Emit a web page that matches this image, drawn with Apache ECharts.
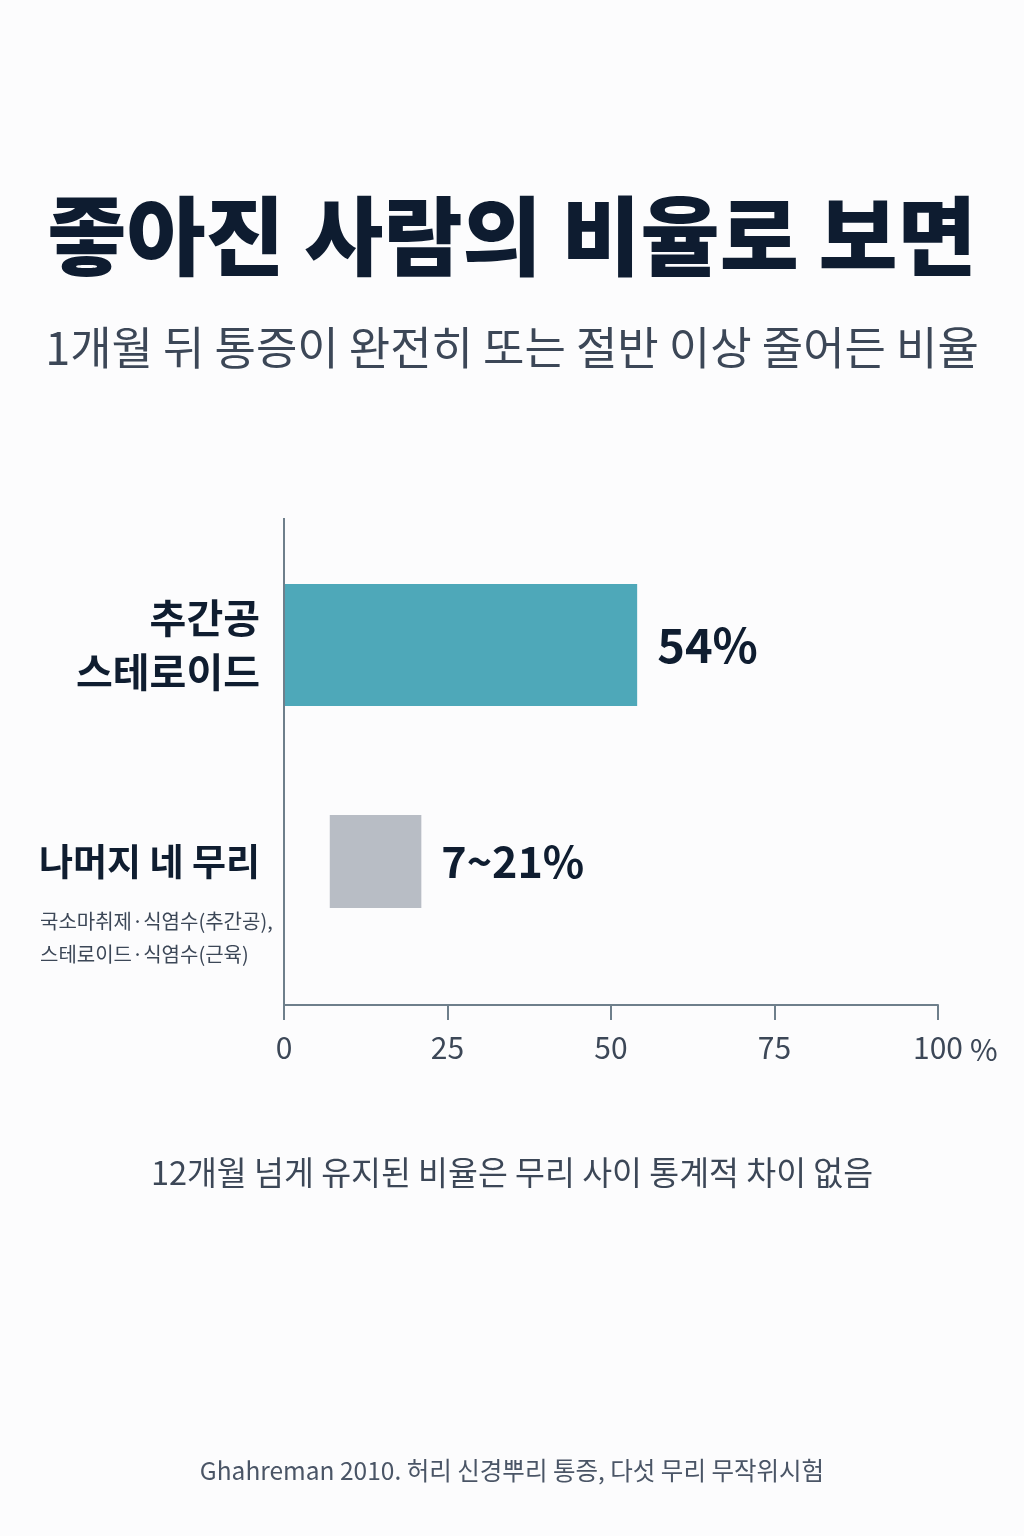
<!DOCTYPE html>
<html><head><meta charset="utf-8">
<script src="https://cdn.jsdelivr.net/npm/echarts@6/dist/echarts.min.js"></script>
<style>html,body{margin:0;padding:0;background:#fcfcfd}#c{width:1024px;height:1536px}</style>
</head><body><div id="c"></div>
<script>
const FONT = '"Noto Sans CJK KR", "Noto Sans", sans-serif';
const titleText = '좋아진 사람의 비율로 보면';
const subtitleText = '1개월 뒤 통증이 완전히 또는 절반 이상 줄어든 비율';
const categories = ['추간공\n스테로이드', '나머지 네 무리'];
const subLabel = '국소마취제·식염수(추간공),\n스테로이드·식염수(근육)';
const steroidValues = [54, '-'];
const rangeLow = ['-', 7];
const rangeHigh = ['-', 21];
const valueLabels = ['54%', '7~21%'];
const xTicks = [0, 25, 50, 75, 100];
const noteText = '12개월 넘게 유지된 비율은 무리 사이 통계적 차이 없음';
const sourceText = 'Ghahreman 2010. 허리 신경뿌리 통증, 다섯 무리 무작위시험';

const rangeSpan = rangeHigh.map((h, i) => (h === '-' ? '-' : h - rangeLow[i]));

const chart = echarts.init(document.getElementById('c'), null, {renderer: 'canvas'});
chart.setOption({
  backgroundColor: '#fcfcfd',
  animation: false,
  title: [
    {text: titleText, left: 'center', top: 188,
     textStyle: {fontFamily: FONT, fontSize: 86, fontWeight: 900, color: '#0e1c30'}},
    {text: subtitleText, left: 'center', top: 320,
     textStyle: {fontFamily: FONT, fontSize: 45, fontWeight: 'normal', color: '#3c4757'}},
    {text: noteText, left: 'center', top: 1151,
     textStyle: {fontFamily: FONT, fontSize: 32.5, fontWeight: 'normal', color: '#3c4757'}},
    {text: sourceText, left: 'center', top: 1453,
     textStyle: {fontFamily: FONT, fontSize: 24.5, fontWeight: 'normal', color: '#4a5566'}}
  ],
  grid: {left: 284, right: 86, top: 515, bottom: 559},
  xAxis: {
    type: 'value', min: xTicks[0], max: xTicks[xTicks.length - 1], interval: 25,
    position: 'bottom', offset: 28,
    name: '%', nameLocation: 'end', nameGap: 32,
    nameTextStyle: {fontFamily: FONT, fontSize: 30, color: '#3c4757', verticalAlign: 'top', padding: [30, 0, 0, 0]},
    axisLine: {show: true, lineStyle: {color: '#6e7f8b', width: 2}},
    axisTick: {show: true, length: 15, lineStyle: {color: '#6e7f8b', width: 2}},
    axisLabel: {fontFamily: FONT, fontSize: 30, color: '#3c4757', margin: 28},
    splitLine: {show: false}
  },
  yAxis: {
    type: 'category', inverse: true, data: categories,
    axisLine: {show: false}, axisTick: {show: false},
    axisLabel: {
      margin: 24, align: 'right',
      formatter: function (v, i) {
        if (i === 0) {
          const parts = v.split('\n');
          return '{s| }\n{a|' + parts[0] + '}\n{a|' + parts[1] + '}';
        }
        return '{b|' + v + '}';
      },
      rich: {
        s: {fontSize: 10, lineHeight: 29, fontFamily: FONT},
        a: {fontFamily: FONT, fontSize: 40, fontWeight: 'bold', color: '#0f1d30', lineHeight: 54, align: 'right'},
        b: {fontFamily: FONT, fontSize: 37, fontWeight: 'bold', color: '#0f1d30', lineHeight: 50, align: 'right'}
      }
    }
  },
  graphic: [
    {type: 'line', shape: {x1: 284, y1: 518, x2: 284, y2: 1005},
     style: {stroke: '#6e7f8b', lineWidth: 2}, z: 10},
    {type: 'text', x: 40, y: 905,
     style: {text: subLabel, font: '20px ' + FONT, fill: '#3c4757', lineHeight: 33, textVerticalAlign: 'top'}}
  ],
  series: [
    {
      type: 'bar', stack: 'A', data: steroidValues, barWidth: 122, barGap: '-100%',
      itemStyle: {color: '#4ea8b9'},
      label: {show: true, position: 'right', distance: 20, formatter: () => valueLabels[0],
              fontFamily: FONT, fontSize: 47, fontWeight: 'bold', color: '#0f1d30'}
    },
    {
      type: 'bar', stack: 'R', data: rangeLow, barWidth: 93, barGap: '-100%',
      itemStyle: {color: 'rgba(0,0,0,0)'}, silent: true
    },
    {
      type: 'bar', stack: 'R', data: rangeSpan, barWidth: 93, barGap: '-100%',
      itemStyle: {color: '#b8bdc5'},
      label: {show: true, position: 'right', distance: 20, formatter: () => valueLabels[1],
              fontFamily: FONT, fontSize: 43, fontWeight: 'bold', color: '#0f1d30'}
    }
  ]
});
</script>
</body></html>
